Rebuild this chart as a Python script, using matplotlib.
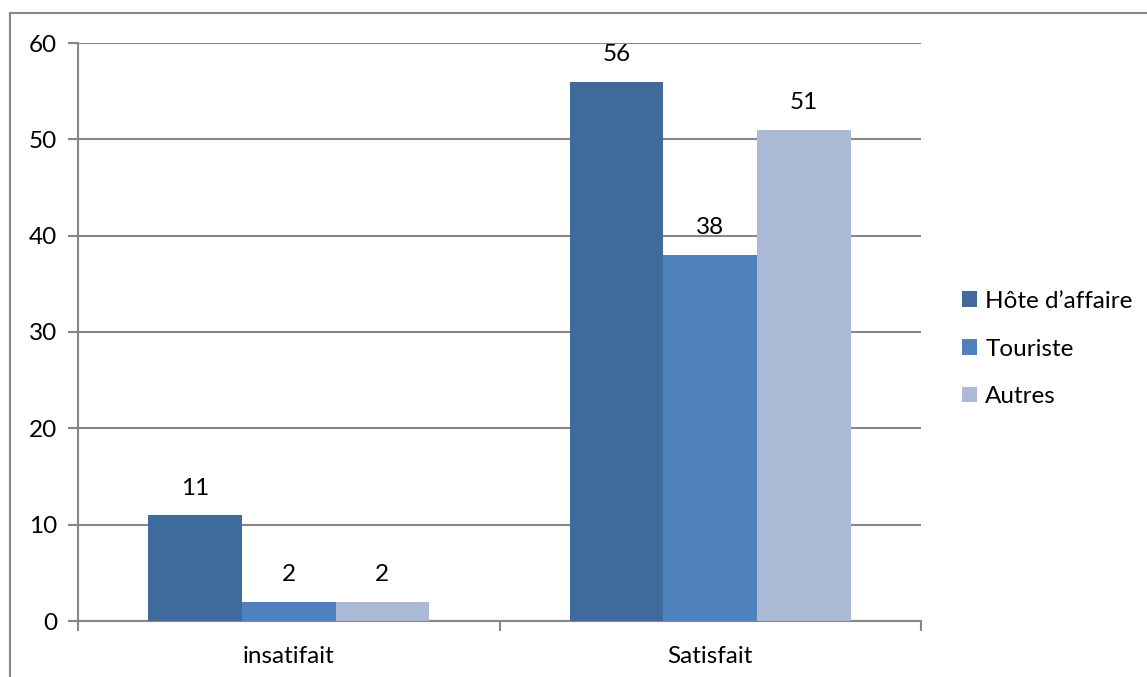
import matplotlib
matplotlib.use("Agg")
import matplotlib.pyplot as plt
from matplotlib.patches import Patch, Rectangle

categories = ["insatifait", "Satisfait"]
series_names = ["Hôte d’affaire", "Touriste", "Autres"]
hote = [11, 56]
touriste = [2, 38]
autres = [2, 51]
yticks = [0, 10, 20, 30, 40, 50, 60]

colors = ["#3F6A9C", "#4F81BD", "#AABAD7"]
grid_col = "#878787"

plt.rcParams["font.family"] = ["Lato", "DejaVu Sans"]
W, H = 1147, 677
fig = plt.figure(figsize=(W / 100, H / 100), dpi=100)
ax = fig.add_axes([78 / W, 1 - 621 / H, (921 - 78) / W, (621 - 43) / H])

# outer chart frame
fig.patches.append(Rectangle((10 / W, -0.01), 1.2, 1 - 13 / H + 0.01,
                             transform=fig.transFigure, fill=False,
                             edgecolor=grid_col, linewidth=1.5))

width = 0.222
offsets = [-width, 0, width]
values = [hote, touriste, autres]
fs = 17.5
for vals, off, col, name in zip(values, offsets, colors, series_names):
    xs = [i + off for i in range(len(categories))]
    ax.bar(xs, vals, width=width, color=col, label=name, zorder=3)
    for x, v in zip(xs, vals):
        ax.text(x, v + 2.8, str(v), ha="center", va="center",
                fontsize=fs, color="#000000", zorder=4)

ax.set_xlim(-0.5, 1.5)
ax.set_ylim(0, 60)
ax.set_yticks(yticks)
ax.set_yticklabels([str(t) for t in yticks], fontsize=fs)
ax.yaxis.grid(True, color=grid_col, linewidth=1.5, zorder=0)
ax.set_xticks([-0.5, 0.5, 1.5])
ax.set_xticklabels([])
ax.set_xticks([0, 1], minor=True)
ax.set_xticklabels(categories, minor=True, fontsize=fs)
ax.tick_params(axis="x", which="minor", length=0, pad=18)
ax.tick_params(axis="x", which="major", length=7, width=1.5, color=grid_col)
ax.tick_params(axis="y", length=7, width=1.5, color=grid_col, pad=8)
for s in ["top", "right"]:
    ax.spines[s].set_visible(False)
for s in ["left", "bottom"]:
    ax.spines[s].set_color(grid_col)
    ax.spines[s].set_linewidth(1.5)

handles = [Patch(facecolor=c, edgecolor="none") for c in colors]
fig.legend(handles, series_names, loc="center left",
           bbox_to_anchor=(950 / W, 1 - 349 / H), frameon=False,
           fontsize=fs, handlelength=0.6, handleheight=0.6,
           handletextpad=0.35, labelspacing=1.1, borderpad=0)

fig.savefig("out.png", dpi=100)
